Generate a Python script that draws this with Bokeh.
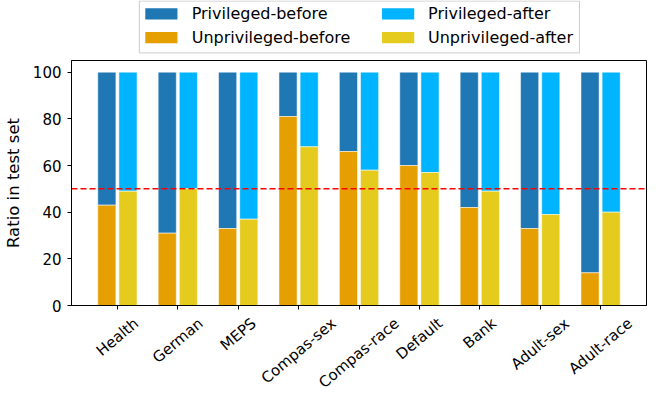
import numpy as np
from bokeh.plotting import figure
from bokeh.layouts import column
from bokeh.models import Range1d, FixedTicker, Span, ColumnDataSource
from bokeh.core.properties import value
from bokeh.embed import file_html
from bokeh.resources import INLINE

# ---------------- data ----------------
categories = ["Health", "German", "MEPS", "Compas-sex", "Compas-race",
              "Default", "Bank", "Adult-sex", "Adult-race"]
unpriv_before = [43, 31, 33, 81, 66, 60, 42, 33, 14]
unpriv_after = [49, 50, 37, 68, 58, 57, 49, 39, 40]
total = [100, 100, 100, 100, 100, 100, 100, 100, 100]
y_ticks = [0, 20, 40, 60, 80, 100]
threshold = 50
series_labels = ["Privileged-before", "Unprivileged-before",
                 "Privileged-after", "Unprivileged-after"]

# ---------------- style ----------------
FONT = "DejaVu Sans"
C_PB, C_UB, C_PA, C_UA = "#1f77b4", "#e69f00", "#00b4ff", "#e4cb1e"
series_colors = [C_PB, C_UB, C_PA, C_UA]
BAR_W = 0.30
OFF = 0.175
TICK_FS = 15
ANGLE = np.deg2rad(40)
W = 649
BL, BR = 67, 3           # left / right borders shared by all strips
TOP_H = 59
FRAME_H = 245
MAIN_BOT = 9
MAIN_H = 1 + FRAME_H + MAIN_BOT
BOT_H = 392 - TOP_H - MAIN_H

idx = np.arange(len(categories))
xr = Range1d(-0.76, len(categories) - 1 + 0.76)

# ---------------- legend strip ----------------
lg = figure(width=W, height=TOP_H, output_backend="svg", toolbar_location=None,
            x_range=Range1d(BL, W - BR), y_range=Range1d(-TOP_H, 0),
            x_axis_type=None, y_axis_type=None,
            min_border_left=BL, min_border_right=BR,
            min_border_top=0, min_border_bottom=0)
lg.outline_line_color = None
lg.background_fill_color = "white"
lg.border_fill_color = "white"
LEG_L, LEG_R, LEG_T, LEG_B = 135.3, 578.5, 0.5, 52.4
lg.quad(left=[LEG_L], right=[LEG_R], top=[-LEG_T], bottom=[-LEG_B],
        fill_color="white", fill_alpha=0.8, line_color="#cccccc", line_width=1)
COL_SW = [141.3, 379.7]
COL_TX = [188.0, 426.0]
ROW_C = [13.4, 37.2]
SW_W, SW_H = 32.4, 11.3
cols = [0, 0, 1, 1]
rows = [0, 1, 0, 1]
sw_l = [COL_SW[c] for c in cols]
sw_yc = [-ROW_C[r] for r in rows]
lg.quad(left=sw_l, right=[v + SW_W for v in sw_l],
        top=[v + SW_H / 2 for v in sw_yc], bottom=[v - SW_H / 2 for v in sw_yc],
        fill_color=series_colors, line_color=None)
lg.text(x=[COL_TX[c] for c in cols], y=sw_yc, text=series_labels,
        text_font=value(FONT), text_font_size=value("16px"),
        text_baseline="middle", text_align="left", text_color="black")

# ---------------- main plot ----------------
p = figure(width=W, height=MAIN_H, output_backend="svg", toolbar_location=None,
           x_range=xr, y_range=Range1d(0, 105),
           min_border_left=BL, min_border_right=BR, min_border_top=1,
           min_border_bottom=MAIN_BOT)
p.xgrid.visible = False
p.ygrid.visible = False
p.background_fill_color = "white"
p.border_fill_color = "white"
p.outline_line_color = "black"
p.outline_line_width = 1
p.outline_line_alpha = 1

src = ColumnDataSource(dict(
    xb=idx - OFF, xa=idx + OFF, total=total,
    ub=unpriv_before, ua=unpriv_after))

edge = dict(line_color="white", line_alpha=0.5, line_width=1)
p.vbar(x="xb", width=BAR_W, bottom="ub", top="total", source=src,
       fill_color=C_PB, **edge)
p.vbar(x="xb", width=BAR_W, bottom=0, top="ub", source=src,
       fill_color=C_UB, **edge)
p.vbar(x="xa", width=BAR_W, bottom="ua", top="total", source=src,
       fill_color=C_PA, **edge)
p.vbar(x="xa", width=BAR_W, bottom=0, top="ua", source=src,
       fill_color=C_UA, **edge)

p.add_layout(Span(location=threshold, dimension="width", line_color="red",
                  line_width=1.5, line_dash="6 3"))

for ax in (p.xaxis[0], p.yaxis[0]):
    ax.axis_line_color = "black"
    ax.major_tick_line_color = "black"
    ax.major_tick_out = 4
    ax.major_tick_in = 0
    ax.minor_tick_line_color = None

xa = p.xaxis[0]
xa.ticker = FixedTicker(ticks=[int(i) for i in idx])
xa.major_label_text_color = None      # category names drawn below, centred
xa.major_label_text_font_size = "1px"
xa.major_label_standoff = 0

ya = p.yaxis[0]
ya.major_label_text_font = FONT
ya.major_label_text_color = "black"
ya.major_label_text_font_size = f"{TICK_FS}px"
ya.ticker = FixedTicker(ticks=y_ticks)
ya.major_label_standoff = 6
ya.axis_label = "Ratio in test set"
ya.axis_label_text_font = FONT
ya.axis_label_text_font_size = "16.5px"
ya.axis_label_text_font_style = "normal"
ya.axis_label_text_color = "black"
ya.axis_label_standoff = 7

# ---------------- category label strip ----------------
bt = figure(width=W, height=BOT_H, output_backend="svg", toolbar_location=None,
            x_range=xr, y_range=Range1d(-BOT_H, 0),
            x_axis_type=None, y_axis_type=None,
            min_border_left=BL, min_border_right=BR,
            min_border_top=0, min_border_bottom=0)
bt.outline_line_color = None
bt.background_fill_color = "white"
bt.border_fill_color = "white"

# DejaVu Sans advance widths (1/2048 em) to centre each rotated label
ADV = {" ": 651, "-": 739, "A": 1401, "B": 1405, "C": 1430, "D": 1577,
       "E": 1294, "G": 1577, "H": 1540, "M": 1767, "P": 1235, "S": 1300,
       "a": 1255, "c": 1126, "d": 1300, "e": 1260, "f": 721, "h": 1298,
       "k": 1186, "l": 569, "m": 1995, "n": 1298, "o": 1253, "p": 1300,
       "r": 842, "s": 1067, "t": 803, "u": 1298, "x": 1212}
def text_len(s):
    return sum(ADV.get(ch, 1200) for ch in s) / 2048.0 * TICK_FS
HGT = 1.164 * TICK_FS
PAD = 8   # gap between axis line and rotated label box
depth = [1 + PAD - MAIN_BOT +
         (text_len(s) * np.sin(ANGLE) + HGT * np.cos(ANGLE)) / 2
         for s in categories]
bt.text(x=idx, y=[-d for d in depth], text=categories, angle=float(ANGLE),
        text_font=value(FONT), text_font_size=value(f"{TICK_FS}px"),
        text_align="center", text_baseline="middle", text_color="black")

layout = column(lg, p, bt, spacing=0)
open("out.html", "w").write(file_html(layout, INLINE))
